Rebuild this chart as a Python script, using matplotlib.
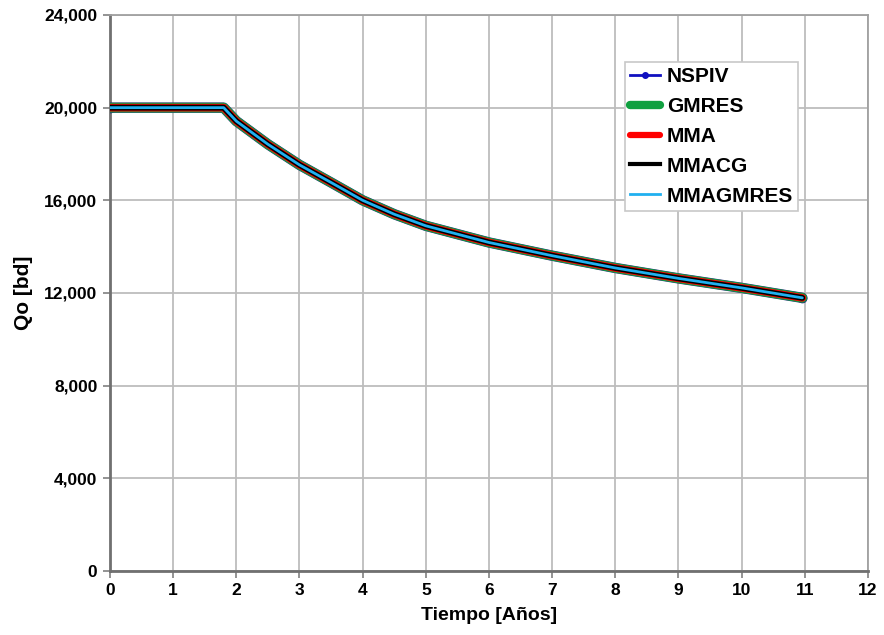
import matplotlib
matplotlib.use("Agg")
import matplotlib.pyplot as plt
from matplotlib.lines import Line2D
from matplotlib.ticker import FuncFormatter, MultipleLocator

plt.rcParams['font.family'] = ['Liberation Sans', 'DejaVu Sans']
plt.rcParams['font.weight'] = 'bold'

# Production time (years) and oil rate (bd)
tiempo = [0, 1.8, 2.0, 2.5, 3.0, 3.5, 4.0, 4.5, 5.0, 6.0, 7.0, 8.0, 9.0, 10.0, 10.96]
qo = [20000, 20000, 19420, 18420, 17530, 16770, 16000, 15400, 14900, 14180,
      13610, 13080, 12630, 12220, 11790]

series = ["NSPIV", "GMRES", "MMA", "MMACG", "MMAGMRES"]
colors = {"NSPIV": "#1010c0", "GMRES": "#10a040", "MMA": "#ff0000",
          "MMACG": "#000000", "MMAGMRES": "#20b0f0"}
widths = {"NSPIV": 7.5, "GMRES": 7.0, "MMA": 5.5, "MMACG": 4.2, "MMAGMRES": 2.0}

fig = plt.figure(figsize=(8.84, 6.35), dpi=100)
ax = fig.add_axes([0.1244, 0.1008, 0.8575, 0.8756])

# solvers give the same curve: stack them from widest to narrowest
common = dict(solid_joinstyle="round", solid_capstyle="round")
ax.plot(tiempo, qo, color="#2a2a80", lw=widths["NSPIV"], marker="o",
        markersize=6, markevery=[0, len(tiempo) - 1], zorder=3, **common)
ax.plot(tiempo, qo, color=colors["GMRES"], lw=widths["GMRES"], zorder=4, **common)
ax.plot(tiempo, qo, color=colors["MMA"], lw=widths["MMA"], zorder=5, **common)
ax.plot(tiempo, qo, color=colors["MMACG"], lw=widths["MMACG"], zorder=6, **common)
ax.plot(tiempo, qo, color=colors["MMAGMRES"], lw=widths["MMAGMRES"], zorder=7, **common)

ax.set_xlim(0, 12)
ax.set_ylim(0, 24000)
ax.xaxis.set_major_locator(MultipleLocator(1))
ax.yaxis.set_major_locator(MultipleLocator(4000))
ax.yaxis.set_major_formatter(FuncFormatter(lambda v, p: f"{int(v):,}"))
ax.grid(True, color="#bdbdbd", lw=1.3)
ax.set_axisbelow(True)
for s in ax.spines.values():
    s.set_color("#a0a0a0")
    s.set_linewidth(1.3)
ax.spines["left"].set_color("#707070")
ax.spines["bottom"].set_color("#707070")
ax.spines["left"].set_linewidth(2)
ax.spines["bottom"].set_linewidth(2)
ax.tick_params(axis="both", direction="out", length=5, width=1.2,
               color="#808080", labelsize=12.5, pad=4)
for lab in ax.get_xticklabels() + ax.get_yticklabels():
    lab.set_fontweight("bold")

ax.set_xlabel("Tiempo [Años]", fontsize=14, fontweight="bold", labelpad=6)
ax.set_ylabel("Qo [bd]", fontsize=15, fontweight="bold", labelpad=8)

handles = [
    Line2D([], [], color=colors["NSPIV"], lw=2, marker="o", markersize=4),
    Line2D([], [], color=colors["GMRES"], lw=6, solid_capstyle="round"),
    Line2D([], [], color=colors["MMA"], lw=4.5, solid_capstyle="round"),
    Line2D([], [], color=colors["MMACG"], lw=3),
    Line2D([], [], color=colors["MMAGMRES"], lw=2),
]
leg = ax.legend(handles, series, loc="upper left",
                bbox_to_anchor=(0.6794, 0.9155), borderaxespad=0,
                prop={"weight": "bold", "size": 15}, frameon=True,
                fancybox=False, edgecolor="#c8c8c8", framealpha=1,
                handlelength=1.45, handletextpad=0.3, labelspacing=0.52,
                borderpad=0.25)
leg.get_frame().set_linewidth(1.2)

fig.savefig("out.png", dpi=100)
